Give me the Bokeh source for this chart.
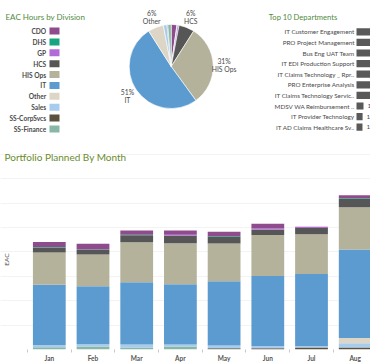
import numpy as np
from bokeh.plotting import figure
from bokeh.models import Range1d, ColumnDataSource, FixedTicker, SingleIntervalTicker, Label
from bokeh.layouts import row, column
from bokeh.embed import file_html
from bokeh.resources import INLINE
from bokeh.core.properties import value

FONT = "Lato"

# ---------------- data ----------------
divisions = ["CDO", "DHS", "GP", "HCS", "HIS Ops", "IT", "Other", "Sales", "SS-CorpSvcs", "SS-Finance"]
division_colors = ["#8E4C8C", "#17A47F", "#B26AD8", "#565656", "#B5B29C",
                   "#5B9BD0", "#DDD6C6", "#A8CCEE", "#5A523D", "#88B7A6"]
division_share = [2.2, 0.2, 0.6, 6.0, 31.0, 51.0, 6.0, 1.4, 0.3, 1.3]

departments = ["IT Customer Engagement", "PRO Project Management", "Bus Eng UAT Team",
               "IT EDI Production Support", "IT Claims Technology _ Rpr..",
               "PRO Enterprise Analysis", "IT Claims Technology Servic..",
               "MDSV WA Reimbursement ..", "IT Provider Technology",
               "IT AD Claims Healthcare Sv.."]
department_hours = [5230, 4870, 4520, 4260, 4010, 3890, 3720, 1700, 1480, 1450]

months = ["Jan", "Feb", "Mar", "Apr", "May", "Jun", "Jul", "Aug"]
cdo = [500, 570, 430, 430, 470, 500, 20, 300]
dhs = [60, 60, 70, 0, 60, 0, 0, 80]
gp = [0, 0, 0, 100, 0, 130, 100, 0]
hcs = [520, 470, 700, 770, 670, 540, 650, 830]
his_ops = [3300, 3260, 4100, 4200, 3870, 4200, 4070, 4340]
it = [6160, 5940, 6400, 6200, 6600, 7160, 7360, 9060]
other = [0, 0, 0, 0, 0, 0, 0, 540]
sales = [240, 230, 300, 200, 270, 240, 170, 450]
ss_corpsvcs = [0, 0, 0, 0, 100, 130, 200, 200]
ss_finance = [230, 300, 200, 300, 30, 0, 0, 0]

TITLE_GREEN = "#4F8A3E"
TEXT = "#4a4a4a"
TOP_H = 148


def base(width, height, x_range, y_range, **kw):
    p = figure(width=width, height=height, output_backend="svg", toolbar_location=None,
               x_range=x_range, y_range=y_range, min_border=0, **kw)
    p.outline_line_color = None
    p.background_fill_color = "white"
    p.border_fill_color = "white"
    p.grid.grid_line_color = None
    return p


def title_label(p, text, x, y, size, color):
    p.add_layout(Label(x=x, y=y, x_units="screen", y_units="screen", text=text,
                       text_font=FONT, text_font_size=size, text_color=color,
                       text_baseline="middle", text_align="left"))


# ---------------- legend panel ----------------
div_idx = list(range(len(divisions)))
fa = base(100, TOP_H, Range1d(0, 100), Range1d(10.79, -2.80),
          x_axis_location=None, y_axis_location=None)
leg_src = ColumnDataSource(dict(y=div_idx, name=divisions, color=division_colors))
fa.rect(x=54, y="y", width=10, height=7, width_units="screen", height_units="screen",
        fill_color="color", line_color=None, source=leg_src)
fa.text(x=45.7, y="y", text="name", text_align="right", text_baseline="middle",
        text_font=value(FONT), text_font_style="bold", text_font_size="6.6px",
        text_color=TEXT, source=leg_src)
title_label(fa, "EAC Hours by Division", 5, TOP_H - 16.7, "8px", TITLE_GREEN)

# ---------------- pie ----------------
fb = base(155, TOP_H, Range1d(-1.683, 2.007), Range1d(-1.952, 1.571),
          x_axis_location=None, y_axis_location=None)
share = np.array(division_share, dtype=float)
frac = share / share.sum()
cw_end = np.cumsum(frac) * 2 * np.pi
cw_start = cw_end - frac * 2 * np.pi
pie_src = ColumnDataSource(dict(
    start=np.pi / 2 - cw_end, end=np.pi / 2 - cw_start, color=division_colors))
fb.wedge(x=0, y=0, radius=1, start_angle="start", end_angle="end",
         fill_color="color", line_color="white", line_width=0.6, source=pie_src)
mid = (cw_start + cw_end) / 2
show = share >= 5
r_lab = 1.26
lab_src = ColumnDataSource(dict(
    x=(r_lab * np.sin(mid))[show], y=(r_lab * np.cos(mid))[show],
    pct=[f"{round(s)}%" for s in share[show]],
    name=[d for d, s in zip(divisions, show) if s]))
fb.text(x="x", y="y", text="pct", y_offset=-4, text_align="center", text_baseline="middle",
        text_font=value(FONT), text_font_size="6.8px", text_color=TEXT, source=lab_src)
fb.text(x="x", y="y", text="name", y_offset=4, text_align="center", text_baseline="middle",
        text_font=value(FONT), text_font_size="6.8px", text_color=TEXT, source=lab_src)

# ---------------- top 10 departments ----------------
dep_end = 3400
dep_idx = list(range(len(departments)))
fc = base(115, TOP_H, Range1d(-101 * dep_end / 14, dep_end), Range1d(11.009, -2.953),
          x_axis_location=None, y_axis_location=None)
dep_src = ColumnDataSource(dict(y=dep_idx, dep=departments, hours=department_hours))
fc.hbar(y="y", left=0, right="hours", height=0.68, fill_color="#595959",
        line_color=None, source=dep_src)
fc.text(x=0, y="y", text="dep", x_offset=-2, text_align="right", text_baseline="middle",
        text_font=value(FONT), text_font_size="6.3px", text_color=TEXT, source=dep_src)
vis = [h < dep_end for h in department_hours]
lab_dep = ColumnDataSource(dict(
    y=[i for i, v in zip(dep_idx, vis) if v],
    hours=[h for h, v in zip(department_hours, vis) if v],
    lab=[f"{h:,}" for h, v in zip(department_hours, vis) if v]))
fc.text(x="hours", y="y", text="lab", x_offset=4, text_baseline="middle",
        text_font=value(FONT), text_font_size="6.3px", text_color=TEXT, source=lab_dep)
title_label(fc, "Top 10 Departments", 13.3, TOP_H - 16.7, "7.6px", TITLE_GREEN)

# ---------------- stacked bars by month ----------------
series = {"CDO": cdo, "DHS": dhs, "GP": gp, "HCS": hcs, "HIS Ops": his_ops, "IT": it,
          "Other": other, "Sales": sales, "SS-CorpSvcs": ss_corpsvcs, "SS-Finance": ss_finance}
xs = list(range(len(months)))
bar_src = ColumnDataSource(dict(x=xs, **series))
stack_order = list(reversed(divisions))
stack_colors = [division_colors[divisions.index(d)] for d in stack_order]

BOT_H = 216
fd = base(370, BOT_H, Range1d(-1.117, 7.350), Range1d(0, 20600), y_axis_location=None)
fd.min_border_bottom = 10
fd.vbar_stack(stackers=stack_order, x="x", width=0.75, fill_color=stack_colors,
              line_color=None, source=bar_src)
fd.ygrid.grid_line_color = "#f3f3f3"
fd.ygrid.ticker = SingleIntervalTicker(interval=2500)

xa = fd.xaxis[0]
xa.ticker = FixedTicker(ticks=xs, minor_ticks=[i - 0.5 for i in range(len(months) + 1)])
xa.major_label_overrides = {i: m for i, m in enumerate(months)}
xa.axis_line_color = None
xa.major_tick_out = 0
xa.major_tick_in = 0
xa.major_tick_line_color = None
xa.minor_tick_out = 3
xa.minor_tick_in = 0
xa.minor_tick_line_color = "#c8c8c8"
xa.major_label_standoff = 2
xa.major_label_text_font = FONT
xa.major_label_text_font_style = "bold"
xa.major_label_text_font_size = "6.5px"
xa.major_label_text_color = "#555555"

frame_h = BOT_H - 10
title_label(fd, "Portfolio Planned By Month", 4, frame_h - 13.5, "10px", "#6A8C2E")
fd.add_layout(Label(x=6, y=frame_h - 116, x_units="screen", y_units="screen", text="EAC",
                    angle=np.pi / 2, text_font=FONT, text_font_size="6.5px",
                    text_color="#555555", text_align="center", text_baseline="middle"))

layout = column(row(fa, fb, fc), fd)
open("out.html", "w").write(file_html(layout, INLINE))
